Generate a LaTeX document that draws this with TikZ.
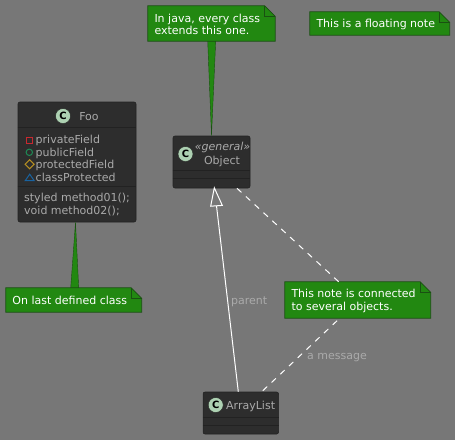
\documentclass[tikz,border=0pt]{standalone}
\usepackage{fontspec}
\setmainfont{DejaVu Sans}
\usetikzlibrary{calc}
\definecolor{bg}{HTML}{777777}
\definecolor{boxc}{HTML}{2D2D2D}
\definecolor{boxl}{HTML}{222222}
\definecolor{txt}{HTML}{AAAAAA}
\definecolor{notef}{HTML}{228811}
\definecolor{notel}{HTML}{1A5012}
\definecolor{spot}{HTML}{ADD1B2}
\definecolor{visred}{HTML}{C82930}
\definecolor{visgreen}{HTML}{1E8A55}
\definecolor{visgold}{HTML}{B38D22}
\definecolor{visblue}{HTML}{1963A0}
\tikzset{
  classbox/.style={fill=boxc,draw=boxl,line width=.6pt,rounded corners=2pt,inner sep=0pt},
  lbl/.style={text=txt,inner sep=0pt,font=\fontsize{11}{12.5}\selectfont},
  notetext/.style={text=white,inner sep=0pt,align=left,anchor=west,font=\fontsize{11}{12.5}\selectfont},
  notebody/.style={fill=notef,draw=notel,line width=.8pt,line join=miter},
  tail/.style={fill=notef,draw=notel,line width=.4pt},
  divider/.style={draw=boxl,line width=.7pt},
  edgeline/.style={draw=white,line width=1pt},
  dashline/.style={draw=white,line width=1pt,dash pattern=on 6pt off 6pt},
  member/.style={lbl,anchor=base west},
  spotc/.style={circle,fill=spot,draw=boxl,line width=.4pt,minimum size=15pt,inner sep=0pt,text=black,font=\bfseries\fontsize{10}{10}\selectfont},
  visicon/.style={line width=1pt,line join=miter}
}
% name, left, top, right, bottom, text
\newcommand{\notebox}[6]{%
  \node[minimum width=#4pt-#2pt,minimum height=#5pt-#3pt,inner sep=0pt] (#1) at ({(#2+#4)/2},{(#3+#5)/2}) {};
  \path[notebody] (#1.north west) -- ($(#1.north east)+(-10.5,0)$) -- ($(#1.north east)+(0,10.5)$) -- (#1.south east) -- (#1.south west) -- cycle;
  \path[draw=notel,line width=.8pt] ($(#1.north east)+(-10.5,0)$) -- ($(#1.north east)+(-10.5,10.5)$) -- ($(#1.north east)+(0,10.5)$);
  \node[notetext] (#1t) at ($(#1.west)+(6.5,0.8)$) {#6};
}
\begin{document}
\begin{tikzpicture}[x=1pt,y=-1pt]
\useasboundingbox[fill=bg] (0,0) rectangle (455,440);

% classes
\node[classbox,minimum width=118pt,minimum height=120pt] (foo) at (77,162) {};
\node[classbox,minimum width=77pt,minimum height=52pt] (obj) at (211.5,162) {};
\node[classbox,minimum width=75.5pt,minimum height=42pt] (al) at (240.8,413) {};

% note tails
\coordinate (tailA) at (207.7,41);
\coordinate (tailB) at (215.7,41);
\path[tail] (tailA) -- (obj.north) -- (tailB) -- cycle;
\coordinate (tailC) at (70.7,288);
\coordinate (tailD) at (78.7,288);
\path[tail] (tailC) -- ($(foo.south)+(-1.5,0)$) -- (tailD) -- cycle;

% notes
\notebox{njava}{148}{6}{275}{41}{In java, every class\\extends this one.}
\notebox{nfloat}{310}{12}{449.5}{35}{This is a floating note}
\notebox{nfoo}{6}{288}{141.5}{312}{On last defined class}
\notebox{nconn}{285}{282}{430.5}{318}{This note is connected\\to several objects.}

% Foo
\node[spotc] (foospot) at (63,116) {C};
\node[lbl,anchor=base] (footitle) at (89,120) {Foo};
\path[divider] ($(foo.north west)+(0,26)$) -- ($(foo.north east)+(0,26)$);
\path[divider] ($(foo.north west)+(0,85)$) -- ($(foo.north east)+(0,85)$);
\node[member] (m1) at (35.5,143.3) {privateField};
\node[member] (m2) at (35.5,156) {publicField};
\node[member] (m3) at (35.5,168.2) {protectedField};
\node[member] (m4) at (35.5,181) {classProtected};
\node[member] (m5) at (24,201.7) {styled method01();};
\node[member] (m6) at (24,214) {void method02();};
% visibility icons
\draw[visicon,draw=visred] (26.3,137.2) rectangle (32.6,143.3);
\draw[visicon,draw=visgreen] (29.3,152.3) circle (3.2);
\draw[visicon,draw=visgold] (29.6,159.8) -- (34.1,164.3) -- (29.6,168.8) -- (25.1,164.3) -- cycle;
\draw[visicon,draw=visblue] (29.7,174.2) -- (34.2,180.7) -- (25.2,180.7) -- cycle;

% Object
\node[spotc] (objspot) at (185.5,154) {C};
\node[lbl,anchor=base,font=\itshape\fontsize{11}{12.5}\selectfont] (objst) at (222.5,150.7) {«general»};
\node[lbl,anchor=base] (objtitle) at (222,164.3) {Object};
\path[divider] ($(obj.north west)+(0,35)$) -- ($(obj.north east)+(0,35)$);
\path[divider] ($(obj.north west)+(0,43)$) -- ($(obj.north east)+(0,43)$);

% ArrayList
\node[spotc] (alspot) at (215.7,405) {C};
\node[lbl,anchor=base west] (altitle) at (226,409.3) {ArrayList};
\path[divider] ($(al.north west)+(0,26)$) -- ($(al.north east)+(0,26)$);
\path[divider] ($(al.north west)+(0,34)$) -- ($(al.north east)+(0,34)$);

% edges
\coordinate (objtip) at ($(obj.south)+(2.8,-.5)$);
\coordinate (tribase) at ($(objtip)+(2.2,18)$);
\path[edgeline] (al.north) ++(-2.5,0) -- (tribase);
\path[edgeline,line join=miter] (objtip) -- ($(tribase)+(-5.8,0.4)$) -- ($(tribase)+(5.8,-0.4)$) -- cycle;
\path[dashline] ($(obj.south)+(25.5,0)$) -- ($(nconn.north)+(-19,0)$);
\path[dashline] ($(al.north)+(22,-1)$) -- ($(nconn.south)+(-18,0)$);
\node[lbl,anchor=base west] (lparent) at (231,304) {parent};
\node[lbl,anchor=base west] (lmsg) at (307,359.3) {a message};
\end{tikzpicture}
\end{document}
